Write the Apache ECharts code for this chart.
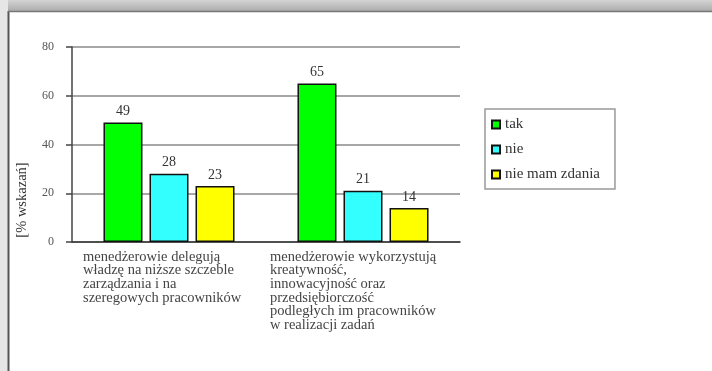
<!DOCTYPE html>
<html><head><meta charset="utf-8">
<script src="https://cdn.jsdelivr.net/npm/echarts@6/dist/echarts.min.js"></script>
<style>html,body{margin:0;padding:0;background:#fff}#c{width:712px;height:371px}</style>
</head><body><div id="c"></div>
<script>
const categories = [
  'menedżerowie delegują\nwładzę na niższe szczeble\nzarządzania i na\nszeregowych pracowników',
  'menedżerowie wykorzystują\nkreatywność,\ninnowacyjność oraz\nprzedsiębiorczość\npodległych im pracowników\nw realizacji zadań'
];
const seriesNames = ['tak', 'nie', 'nie mam zdania'];
const tak = [49, 65];
const nie = [28, 21];
const nieMam = [23, 14];
const yTicks = [0, 20, 40, 60, 80];
const yAxisTitle = '[% wskazań]';
const colors = ['#00ff00', '#33ffff', '#ffff00'];

const chart = echarts.init(document.getElementById('c'));
const font = 'Liberation Serif';
const mkSeries = (name, data, color) => ({
  name, type: 'bar', data, barWidth: 39, barGap: '18%',
  itemStyle: { color, borderColor: '#111', borderWidth: 1.5 },
  label: { show: true, position: 'top', distance: 4, color: '#333', fontFamily: font, fontSize: 14 }
});
chart.setOption({
  animation: false,
  backgroundColor: '#fff',
  graphic: [
    { type: 'rect', shape: { x: 0, y: 0, width: 712, height: 11 }, style: { fill: new echarts.graphic.LinearGradient(0,0,0,1,[{offset:0,color:'#d4d4d4'},{offset:1,color:'#acacac'}]) }, z: -10 },
    { type: 'rect', shape: { x: 0, y: 0, width: 8, height: 371 }, style: { fill: '#e6e6e6' }, z: -10 },
    { type: 'line', shape: { x1: 8.5, y1: 11, x2: 8.5, y2: 371 }, style: { stroke: '#555', lineWidth: 2 }, z: -9 },
    { type: 'line', shape: { x1: 8, y1: 11.5, x2: 712, y2: 11.5 }, style: { stroke: '#777', lineWidth: 1.5 }, z: -9 },
    { type: 'text', x: 22, y: 200, rotation: Math.PI / 2, style: { text: yAxisTitle, fontFamily: font, fontSize: 14.5, fill: '#333', align: 'center', verticalAlign: 'middle' }, z: 5 }
  ],
  grid: { left: 72, right: 252, top: 47, bottom: 129, containLabel: false },
  legend: {
    orient: 'vertical', left: 485, top: 109,
    padding: [8, 15, 7, 6], itemGap: 10,
    itemWidth: 8, itemHeight: 8,
    borderColor: '#999', borderWidth: 1.5,
    textStyle: { fontFamily: font, fontSize: 15, color: '#333' },
    data: seriesNames.map(n => ({ name: n, icon: 'rect' }))
  },
  xAxis: {
    type: 'category', data: categories,
    axisLine: { lineStyle: { color: '#333', width: 1.5 } },
    axisTick: { length: 5, lineStyle: { color: '#333', width: 1.5 } },
    axisLabel: {
      interval: 0, margin: 8,
      formatter: (v, i) => v.split('\n').map(l => (i === 0 ? '{a|' : '{b|') + l + '}').join('\n'),
      rich: {
        a: { width: 172, align: 'left', fontFamily: font, fontSize: 14.5, lineHeight: 13.7, color: '#444' },
        b: { width: 186, align: 'left', fontFamily: font, fontSize: 14.5, lineHeight: 13.7, color: '#444' }
      }
    }
  },
  yAxis: {
    type: 'value', min: yTicks[0], max: yTicks[yTicks.length - 1], interval: 20,
    axisLine: { show: true, lineStyle: { color: '#444', width: 1.5 } },
    axisTick: { show: true, length: 6, lineStyle: { color: '#444', width: 1.5 } },
    axisLabel: { fontFamily: font, fontSize: 12, color: '#555', margin: 18 },
    splitLine: { lineStyle: { color: '#8a8a8a', width: 1.5 } }
  },
  series: [
    mkSeries(seriesNames[0], tak, colors[0]),
    mkSeries(seriesNames[1], nie, colors[1]),
    mkSeries(seriesNames[2], nieMam, colors[2])
  ]
});
</script></body></html>
